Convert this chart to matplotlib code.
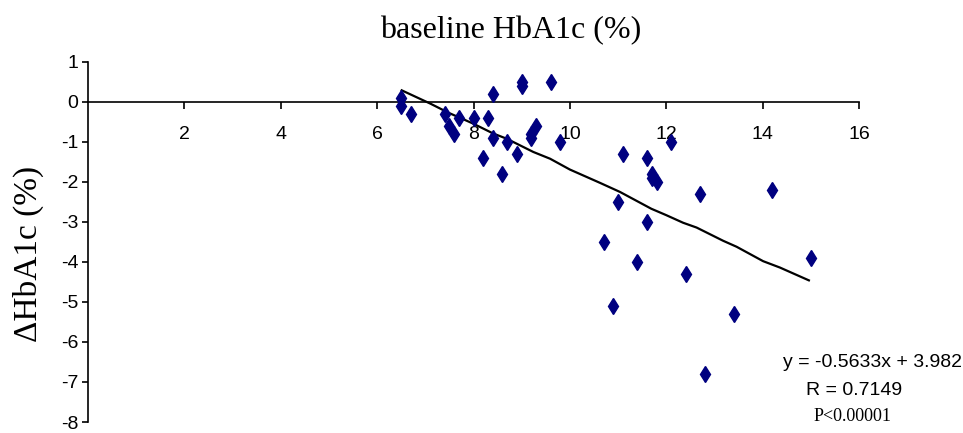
import matplotlib.pyplot as plt

plt.rcParams['axes.unicode_minus'] = False

# baseline HbA1c vs change in HbA1c
baseline = [6.5, 6.5, 6.7, 7.4, 7.5, 7.6, 7.7, 8.0, 8.3, 8.2, 8.4, 8.4, 8.6, 8.7, 8.9,
            9.0, 9.0, 9.2, 9.2, 9.3, 9.6, 9.8, 11.1, 11.6, 11.7, 11.7, 11.8, 12.1, 12.7,
            14.2, 11.0, 11.6, 10.7, 11.4, 12.4, 10.9, 13.4, 12.8, 15.0]
delta = [0.1, -0.1, -0.3, -0.3, -0.6, -0.8, -0.4, -0.4, -0.4, -1.4, 0.2, -0.9, -1.8, -1.0, -1.3,
         0.5, 0.4, -0.8, -0.9, -0.6, 0.5, -1.0, -1.3, -1.4, -1.8, -1.9, -2.0, -1.0, -2.3,
         -2.2, -2.5, -3.0, -3.5, -4.0, -4.3, -5.1, -5.3, -6.8, -3.9]

# trend line as drawn in the original (slightly wavy)
trend_x = [6.51, 7.1, 7.48, 7.99, 8.41, 8.69, 9.24, 9.59, 10.0, 10.62, 11.04, 11.69,
           12.0, 12.35, 12.63, 13.18, 13.46, 14.01, 14.36, 14.96]
trend_y = [0.29, -0.04, -0.27, -0.54, -0.79, -0.92, -1.25, -1.42, -1.69, -2.02, -2.25, -2.67,
           -2.83, -3.02, -3.14, -3.47, -3.62, -3.98, -4.14, -4.46]

xticks = [2, 4, 6, 8, 10, 12, 14, 16]
yticks = [1, 0, -1, -2, -3, -4, -5, -6, -7, -8]

fig = plt.figure(figsize=(9.63, 4.33), dpi=100)
ax = fig.add_axes([0.0914, 0.0254, 0.8006, 0.8316])

ax.plot(trend_x, trend_y, color='black', lw=1.6, zorder=2)
ax.plot(baseline, delta, ls='none', marker='d', ms=8, color='#000080', zorder=3)

ax.set_xlim(0, 16)
ax.set_ylim(-8, 1)
ax.spines['left'].set_position(('data', 0))
ax.spines['bottom'].set_position(('data', 0))
ax.spines['top'].set_visible(False)
ax.spines['right'].set_visible(False)
for s in ['left', 'bottom']:
    ax.spines[s].set_linewidth(1.2)

ax.set_xticks(xticks)
ax.set_yticks(yticks)
ax.tick_params(axis='x', direction='out', length=5, width=1.2, pad=12,
               labelsize=14)
ax.tick_params(axis='y', direction='out', length=4, width=1.2, pad=3,
               labelsize=14)
for lab in ax.get_xticklabels() + ax.get_yticklabels():
    lab.set_fontfamily('Liberation Sans')

fig.text(0.53, 0.93, 'baseline HbA1c (%)', ha='center', va='center',
         fontsize=23, family='Liberation Serif')
fig.text(0.029, 0.413, '\u0394HbA1c (%)', ha='center', va='center', rotation=90,
         fontsize=24, family='Liberation Serif')

fig.text(0.999, 0.162, 'y = -0.5633x + 3.982', ha='right', va='center',
         fontsize=14, family='Liberation Sans')
fig.text(0.887, 0.099, 'R = 0.7149', ha='center', va='center',
         fontsize=14, family='Liberation Sans')
fig.text(0.885, 0.037, 'P<0.00001', ha='center', va='center',
         fontsize=13, family='Liberation Serif')

fig.savefig('out.png', dpi=100)
